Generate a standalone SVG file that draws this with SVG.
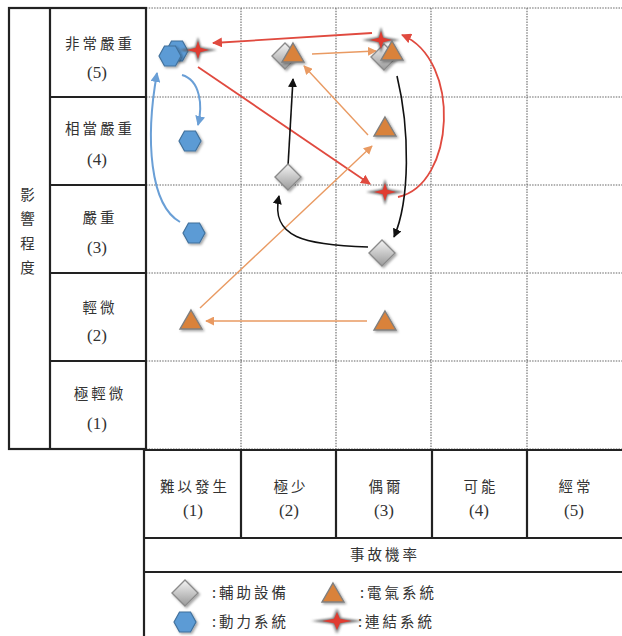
<svg xmlns="http://www.w3.org/2000/svg" width="622" height="636" viewBox="0 0 622 636">
<style>
.thick{stroke:#222;stroke-width:2.2;fill:none}
.grid{stroke:#666;stroke-width:1.1;stroke-dasharray:1.5 1.2;fill:none}
.zh{font-family:"Noto Sans CJK TC","Noto Sans CJK SC",sans-serif;font-size:14.5px;fill:#333;letter-spacing:3px;text-anchor:middle}
.zhl{font-family:"Noto Sans CJK TC","Noto Sans CJK SC",sans-serif;font-size:14.5px;fill:#333;letter-spacing:3px}
.num{font-family:"Liberation Serif",serif;font-size:17px;fill:#333;text-anchor:middle}
.red{stroke:#E04A3F;stroke-width:1.8;fill:none;marker-end:url(#aRed)}
.org{stroke:#E99A62;stroke-width:1.4;fill:none;marker-end:url(#aOrg)}
.blk{stroke:#111;stroke-width:1.6;fill:none;marker-end:url(#aBlk)}
.blu{stroke:#6A9FD6;stroke-width:2;fill:none;marker-end:url(#aBlu)}
.hex{fill:#5B9BD5;stroke:#41719C;stroke-width:1.2}
.tri{fill:#D9823B;stroke:#7F7F7F;stroke-width:1.4}
.dia{fill:url(#gDia);stroke:#8A8A8A;stroke-width:1.4}
</style>
<defs>
<linearGradient id="gDia" x1="0" y1="0" x2="0" y2="1">
<stop offset="0" stop-color="#f4f4f4"/><stop offset="1" stop-color="#9a9a9a"/>
</linearGradient>
<filter id="sh" x="-40%" y="-40%" width="180%" height="180%">
<feDropShadow dx="1.5" dy="1.5" stdDeviation="1" flood-color="#000" flood-opacity="0.35"/>
</filter>
<filter id="blur" x="-40%" y="-40%" width="180%" height="180%">
<feGaussianBlur stdDeviation="1"/>
</filter>
<marker id="aRed" viewBox="0 0 10 10" refX="9" refY="5" markerWidth="10" markerHeight="10" markerUnits="userSpaceOnUse" orient="auto"><path d="M0,0 L10,5 L0,10 z" fill="#E04A3F"/></marker>
<marker id="aOrg" viewBox="0 0 10 10" refX="9" refY="5" markerWidth="9" markerHeight="9" markerUnits="userSpaceOnUse" orient="auto"><path d="M0,0 L10,5 L0,10 z" fill="#E99A62"/></marker>
<marker id="aBlk" viewBox="0 0 10 10" refX="9" refY="5" markerWidth="9" markerHeight="9" markerUnits="userSpaceOnUse" orient="auto"><path d="M0,0 L10,5 L0,10 z" fill="#111"/></marker>
<marker id="aBlu" viewBox="0 0 10 10" refX="9" refY="5" markerWidth="10" markerHeight="10" markerUnits="userSpaceOnUse" orient="auto"><path d="M0,0 L10,5 L0,10 z" fill="#6A9FD6"/></marker>
<path id="hexS" d="M-11,0 L-5.5,-10 L5.5,-10 L11,0 L5.5,10 L-5.5,10 Z"/>
<path id="triS" d="M0,-10 L11,9 L-11,9 Z"/>
<path id="diaS" d="M0,-13 L13,0 L0,13 L-13,0 Z"/>
<g id="starS">
<path d="M0,-13 L3,-3 L19,0 L3,3 L0,13 L-3,3 L-19,0 L-3,-3 Z" fill="#5a5a5a" opacity="0.85" filter="url(#blur)"/>
<path d="M0,-9 L2.2,-2.2 L11,0 L2.2,2.2 L0,9 L-2.2,2.2 L-11,0 L-2.2,-2.2 Z" fill="#E03C31"/>
</g>
</defs>
<rect width="622" height="636" fill="#fff"/>

<g id="grid">
<path class="grid" d="M146,8H622M146,97H622M146,185H622M146,273H622M146,361H622M146,449H622M241,8V449M336,8V449M431,8V449M527,8V449"/>
</g>
<g id="frame">
<rect class="thick" x="9" y="8" width="137" height="441"/>
<path class="thick" d="M50,8V449M50,97H146M50,185H146M50,273H146M50,361H146"/>
<path class="thick" d="M144,449V636M144,450H622M144,538H622M144,572H622M241,450V538M336,450V538M432,450V538M527,450V538"/>
</g>

<g id="axis-labels">
<text class="zh" x="29" y="200">影</text>
<text class="zh" x="29" y="224">響</text>
<text class="zh" x="29" y="249">程</text>
<text class="zh" x="29" y="273">度</text>
<text class="zh" x="100" y="49">非常嚴重</text><text class="num" x="97" y="78">(5)</text>
<text class="zh" x="100" y="134">相當嚴重</text><text class="num" x="97" y="165">(4)</text>
<text class="zh" x="100" y="223">嚴重</text><text class="num" x="97" y="253">(3)</text>
<text class="zh" x="100" y="313">輕微</text><text class="num" x="97" y="341">(2)</text>
<text class="zh" x="100" y="399">極輕微</text><text class="num" x="97" y="429">(1)</text>
<text class="zh" x="195" y="492">難以發生</text><text class="num" x="193" y="516">(1)</text>
<text class="zh" x="291" y="492">極少</text><text class="num" x="289" y="516">(2)</text>
<text class="zh" x="386" y="492">偶爾</text><text class="num" x="384" y="516">(3)</text>
<text class="zh" x="481" y="492">可能</text><text class="num" x="479" y="516">(4)</text>
<text class="zh" x="576" y="492">經常</text><text class="num" x="574" y="516">(5)</text>
<text class="zh" x="385" y="560">事故機率</text>
</g>

<g id="legend">
<use href="#diaS" class="dia" x="185" y="593" filter="url(#sh)"/>
<text class="zhl" x="212" y="598">:輔助設備</text>
<use href="#triS" class="tri" x="333" y="593" filter="url(#sh)"/>
<text class="zhl" x="360" y="598">:電氣系統</text>
<use href="#hexS" class="hex" x="185" y="622" filter="url(#sh)"/>
<text class="zhl" x="212" y="627">:動力系統</text>
<g transform="translate(337,621) scale(1.35,1)"><use href="#starS"/></g>
<text class="zhl" x="358" y="627">:連結系統</text>
</g>

<g id="connectors">
<path class="red" d="M372,33 L213,43"/>
<path class="red" d="M198,67 L370,184"/>
<path class="red" d="M398,197 C455,185 462,60 402,35"/>
<path class="org" d="M312,54 L376,51"/>
<path class="org" d="M368,135 L304,66"/>
<path class="org" d="M200,308 L372,146"/>
<path class="org" d="M367,321 L206,321"/>
<path class="blk" d="M288,166 L293,79"/>
<path class="blk" d="M368,247 C305,245 270,238 279,196"/>
<path class="blk" d="M397,76 C410,130 410,200 394,237"/>
<path class="blu" d="M182,75 C200,80 203,105 198,125"/>
<path class="blu" d="M180,222 C150,205 145,140 157,73"/>
</g>

<g id="n-hex-5a"><use href="#hexS" class="hex" x="177" y="51" filter="url(#sh)"/></g>
<g id="n-hex-5b"><use href="#hexS" class="hex" x="170" y="56" filter="url(#sh)"/></g>
<g id="n-star-1-5"><use href="#starS" x="198" y="50"/></g>
<g id="n-hex-1-4"><use href="#hexS" class="hex" x="190" y="141" filter="url(#sh)"/></g>
<g id="n-hex-1-3"><use href="#hexS" class="hex" x="194" y="233" filter="url(#sh)"/></g>
<g id="n-tri-1-2"><use href="#triS" class="tri" x="191" y="320" filter="url(#sh)"/></g>
<g id="n-dia-2-5"><use href="#diaS" class="dia" x="285" y="56" filter="url(#sh)"/></g>
<g id="n-tri-2-5"><use href="#triS" class="tri" x="293" y="53" filter="url(#sh)"/></g>
<g id="n-dia-2-3"><use href="#diaS" class="dia" x="288" y="177" filter="url(#sh)"/></g>
<g id="n-dia-3-5"><use href="#diaS" class="dia" x="384" y="57" filter="url(#sh)"/></g>
<g id="n-star-3-5"><use href="#starS" x="381" y="40"/></g>
<g id="n-tri-3-5"><use href="#triS" class="tri" x="392" y="51" filter="url(#sh)"/></g>
<g id="n-tri-3-4"><use href="#triS" class="tri" x="385" y="127" filter="url(#sh)"/></g>
<g id="n-star-3-3"><use href="#starS" x="385" y="192"/></g>
<g id="n-dia-3-3"><use href="#diaS" class="dia" x="382" y="253" filter="url(#sh)"/></g>
<g id="n-tri-3-2"><use href="#triS" class="tri" x="385" y="321" filter="url(#sh)"/></g>
</svg>
